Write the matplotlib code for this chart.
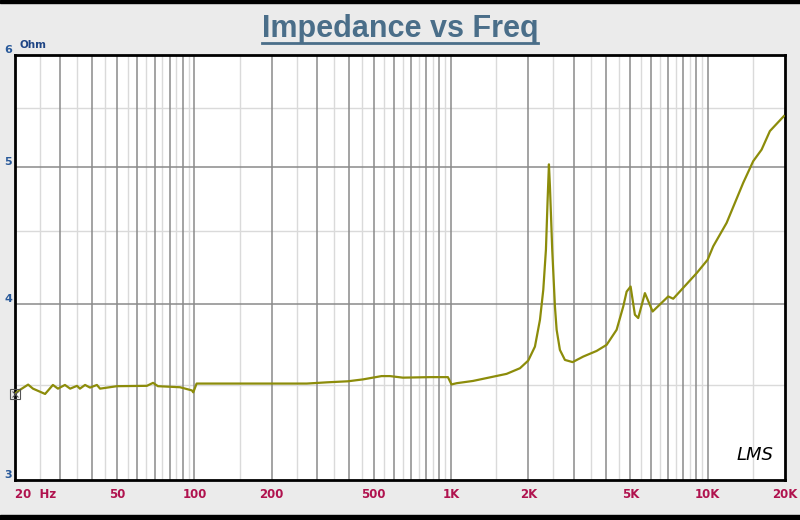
import matplotlib.pyplot as plt
import matplotlib.lines as mlines
import numpy as np

# impedance curve (Hz, Ohm)
freq = [20, 20.9, 22.5, 23.5, 26.2, 28.1, 29.4, 31.3, 32.8, 34.9, 35.8, 37.5,
        39.2, 41.7, 42.9, 49.9, 65.3, 69.0, 72.1, 87.9, 97.8, 99, 102,
        274, 328, 396, 454, 536, 578, 649, 828, 972, 1004, 1051, 1217,
        1646, 1856, 1998, 2122, 2220, 2287, 2342, 2378, 2406, 2428, 2478,
        2539, 2578, 2655, 2777, 2976, 3273, 3692, 4038, 4416, 4686, 4831,
        5006, 5097, 5203, 5360, 5692, 6099, 7016, 7338, 9055, 9993, 10505,
        11847, 13748, 15038, 16215, 17465, 19802]
ohm = [3.454, 3.475, 3.505, 3.482, 3.452, 3.503, 3.482, 3.503, 3.482, 3.498,
       3.482, 3.503, 3.488, 3.503, 3.482, 3.496, 3.498, 3.515, 3.496, 3.490,
       3.472, 3.461, 3.511,
       3.511, 3.518, 3.524, 3.535, 3.554, 3.554, 3.545, 3.548, 3.548, 3.506,
       3.513, 3.526,
       3.567, 3.600, 3.645, 3.729, 3.896, 4.091, 4.368, 4.740, 5.02, 4.84,
       4.368, 3.981, 3.833, 3.709, 3.649, 3.636, 3.669, 3.703, 3.740, 3.833,
       3.981, 4.079, 4.113, 4.025, 3.928, 3.907, 4.069, 3.949, 4.047, 4.032,
       4.204, 4.297, 4.392, 4.563, 4.871, 5.046, 5.142, 5.300, 5.431]

x_ticks = [20, 50, 100, 200, 500, 1000, 2000, 5000, 10000, 20000]
x_labels = ['20  Hz', '50', '100', '200', '500', '1K', '2K', '5K', '10K', '20K']
y_ticks = [3, 4, 5, 6]

fig = plt.figure(figsize=(8, 5.2), dpi=100, facecolor='#ebebeb')
ax = fig.add_axes([15 / 800, 1 - 480 / 520, 770 / 800, 425 / 520])
ax.set_xscale('log')
ax.set_yscale('log')
ax.set_xlim(20, 20000)
ax.set_ylim(3, 6)

# grid: dark at 1..9 per decade, light at the half steps
for dec in [10, 100, 1000, 10000]:
    for n in range(1, 10):
        f = n * dec
        if 20 < f < 20000:
            ax.axvline(f, color='#8a8a8a', lw=1.1, zorder=1)
        fh = (n + 0.5) * dec
        if 20 < fh < 20000:
            ax.axvline(fh, color='#dadada', lw=1.0, zorder=0.5)
for v in [4, 5]:
    ax.axhline(v, color='#8a8a8a', lw=1.1, zorder=1)
for v in [3.5, 4.5, 5.5]:
    ax.axhline(v, color='#dadada', lw=1.0, zorder=0.5)

ax.plot(freq, ohm, color='#8c8c0a', lw=1.6, zorder=3)
# cursor marker at the left edge
ax.plot([freq[0]], [ohm[0]], marker='s', ms=7, mfc='none', mec='#555555', mew=0.8,
        zorder=4, clip_on=False)
ax.plot([freq[0]], [ohm[0]], marker='x', ms=4, color='#555555', mew=0.8,
        zorder=4, clip_on=False)

ax.set_xticks(x_ticks)
ax.set_xticklabels(x_labels)
ax.set_yticks(y_ticks)
ax.set_yticklabels([str(v) for v in y_ticks])
ax.minorticks_off()
ax.tick_params(length=0, pad=6)
ax.tick_params(axis='x', labelcolor='#b0124e', labelsize=8.5)
ax.tick_params(axis='y', labelcolor='#2a5a9a', labelsize=8, pad=2)
for t in ax.get_xticklabels() + ax.get_yticklabels():
    t.set_fontweight('bold')
for t in ax.get_yticklabels():
    t.set_verticalalignment('bottom')
ax.get_xticklabels()[0].set_horizontalalignment('left')

for s in ax.spines.values():
    s.set_color('black')
    s.set_linewidth(2)

ax.text(0.985, 0.06, 'LMS', transform=ax.transAxes, ha='right', va='center',
        fontsize=13, style='italic', color='black', fontweight='light')

fig.text(20 / 800, 1 - 45 / 520, 'Ohm', color='#1f4585', fontsize=7.5,
         fontweight='bold', ha='left', va='center')

fig.text(0.5, 1 - 29 / 520, 'Impedance vs Freq', ha='center', va='center',
         fontsize=22, fontweight='bold', color='#4a6e89',
         family=['Liberation Sans', 'DejaVu Sans'])
fig.add_artist(mlines.Line2D([262 / 800, 538 / 800], [1 - 43 / 520, 1 - 43 / 520],
                             color='#4a6e89', lw=2))

# black bands top and bottom
fig.add_artist(plt.Rectangle((0, 1 - 3 / 520), 1, 3 / 520, color='black',
                             transform=fig.transFigure))
fig.add_artist(plt.Rectangle((0, 0), 1, 5 / 520, color='black',
                             transform=fig.transFigure))

fig.savefig('out.png', dpi=100, facecolor=fig.get_facecolor())
